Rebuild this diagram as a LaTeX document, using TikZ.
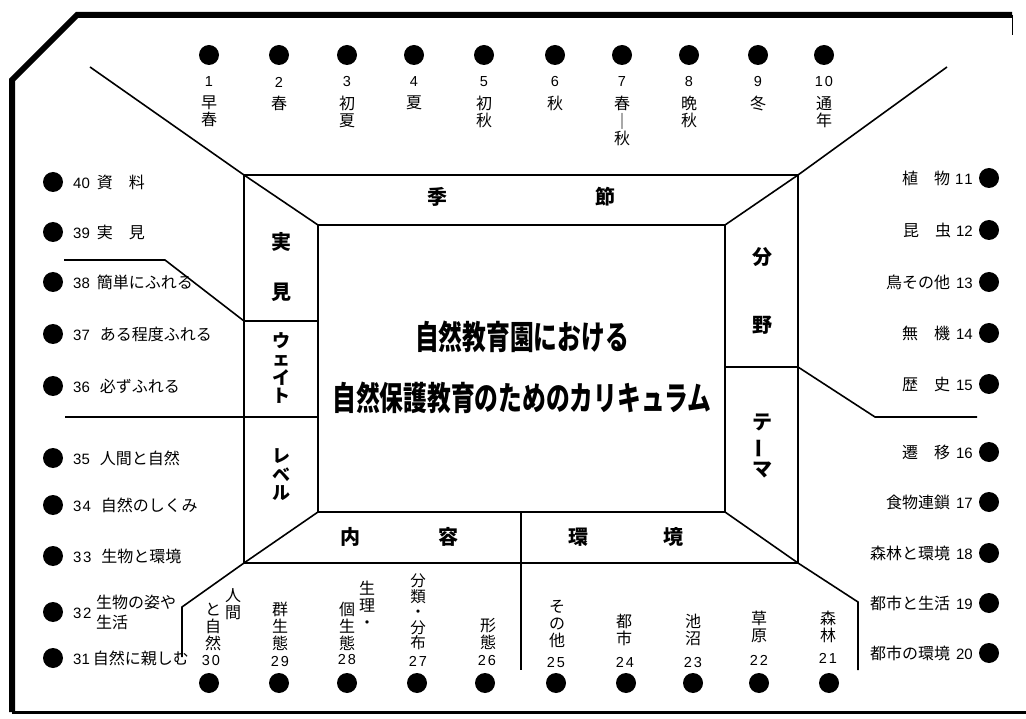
\documentclass[tikz,border=0pt]{standalone}
\usepackage{fontspec}
\setmainfont{Liberation Sans}
\newfontfamily\jp{Noto Sans CJK JP}
\newcommand\jl[1]{{\jp\fontsize{16}{18}\selectfont #1}}
\tikzset{
 dot/.style={circle,fill=black,inner sep=0pt,minimum size=20pt},
 num/.style={inner sep=0pt,font=\fontsize{14.5}{16}\selectfont},
 vlab/.style={inner sep=0pt,align=center,font=\jp\fontsize{16}{17}\selectfont},
 slab/.style={inner sep=0pt,font=\fontsize{15}{17}\selectfont},
 band/.style={inner sep=0pt,align=center,font=\jp\bfseries\fontsize{20}{21}\selectfont},
 fr/.style={line width=1.6pt,line join=miter},
 border/.style={line width=6pt,line join=miter},
}
\begin{document}
\begin{tikzpicture}[x=1pt,y=-1pt]
\useasboundingbox (0,0) rectangle (1026,719);
\fill[white] (0,0) rectangle (1026,719);
% outer border
\coordinate (b1) at (1012,15);
\coordinate (b2) at (77,15);
\coordinate (b3) at (12,80);
\coordinate (b4) at (12,712);
\coordinate (b5) at (1026,712);
\coordinate (b6) at (1012,35);
\draw[border] (b1) -- (b2) -- (b3) -- (b4);
\draw[line width=3pt] (b4) -- (b5);
\draw[line width=1pt] (b1) -- (b6);
% frame corners
\coordinate (otl) at (244,175);
\coordinate (otr) at (798,175);
\coordinate (obl) at (244,563);
\coordinate (obr) at (798,563);
\coordinate (itl) at (318,225);
\coordinate (itr) at (725,225);
\coordinate (ibl) at (318,512);
\coordinate (ibr) at (725,512);
\draw[fr] (otl) rectangle (obr);
\draw[fr] (itl) rectangle (ibr);
% diagonals
\coordinate (dtl) at (90,67);
\coordinate (dtr) at (947,67);
\draw[fr] (dtl) -- (otl) -- (itl);
\draw[fr] (dtr) -- (otr) -- (itr);
\coordinate (dbl1) at (182,607);
\coordinate (dbl2) at (182,657);
\draw[fr] (ibl) -- (obl) -- (dbl1) -- (dbl2);
\coordinate (dbr1) at (858,602);
\coordinate (dbr2) at (858,670);
\draw[fr] (ibr) -- (obr) -- (dbr1) -- (dbr2);
% bottom divider
\coordinate (dv1) at (521,512);
\coordinate (dv2) at (521,670);
\draw[fr] (dv1) -- (dv2);
% left column dividers and side lines
\coordinate (lw1) at (244,321);
\coordinate (lw2) at (318,321);
\draw[fr] (lw1) -- (lw2);
\coordinate (ls1) at (64,260);
\coordinate (ls2) at (165,260);
\draw[fr] (ls1) -- (ls2) -- (lw1);
\coordinate (ll1) at (65,417);
\coordinate (ll2) at (318,417);
\draw[fr] (ll1) -- (ll2);
% right column divider and side line
\coordinate (rw1) at (725,367);
\coordinate (rw2) at (798,367);
\coordinate (rs1) at (875,417);
\coordinate (rs2) at (977,417);
\draw[fr] (rw1) -- (rw2) -- (rs1) -- (rs2);
% band labels
\node[band] (ki) at (437,197) {季};
\node[band] (se) at (605,197) {節};
\node[band] (nai) at (350,537) {内};
\node[band] (yo) at (448,537) {容};
\node[band] (kan) at (578,537) {環};
\node[band] (kyo) at (673,537) {境};
\node[band] (ji) at (281,242) {実};
\node[band] (ken) at (281,292) {見};
\node[band,font=\jp\bfseries\fontsize{18}{18.5}\selectfont] (wei) at (281,368) {ウ\\ェ\\イ\\ト};
\node[band,font=\jp\bfseries\fontsize{18}{18.5}\selectfont] (lev) at (281,475) {レ\\ベ\\ル};
\node[band] (bun) at (762,257) {分};
\node[band] (ya) at (762,325) {野};
\node[band,font=\jp\bfseries\fontsize{20}{23.5}\selectfont] (tema) at (762,446) {テ\\\rotatebox[origin=c]{90}{ー}\\マ};
% title
\node[inner sep=0pt] (title1) at (522,337) {\scalebox{0.72}[1]{\jp\bfseries\fontsize{33}{33}\selectfont 自然教育園における}};
\node[inner sep=0pt] (title2) at (522,398) {\scalebox{0.72}[1]{\jp\bfseries\fontsize{33}{33}\selectfont 自然保護教育のためのカリキュラム}};
% top dots
\foreach \x/\n [count=\i] in {209/1,279/2,347/3,414/4,484/5,555/6,622/7,689/8,758/9,824/{1\kern2pt0}} {
  \node[dot] (t\i) at (\x,55) {};
  \node[num] (tn\i) at (\x,82) {\n};
}
\node[vlab,anchor=north] (tl1) at (209,96) {早\\春};
\node[vlab,anchor=north] (tl2) at (279,96) {春};
\node[vlab,anchor=north] (tl3) at (347,96) {初\\夏};
\node[vlab,anchor=north] (tl4) at (414,96) {夏};
\node[vlab,anchor=north] (tl5) at (484,96) {初\\秋};
\node[vlab,anchor=north] (tl6) at (555,96) {秋};
\node[vlab,anchor=north,font=\jp\fontsize{16}{17.5}\selectfont] (tl7) at (622,96) {春\\｜\\秋};
\node[vlab,anchor=north] (tl8) at (689,96) {晩\\秋};
\node[vlab,anchor=north] (tl9) at (758,96) {冬};
\node[vlab,anchor=north] (tl10) at (824,96) {通\\年};
% left dots and labels
\foreach \y [count=\i] in {182,232,282,334,386,458,505,556,612,658} {
  \node[dot] (ld\i) at (53,\y) {};
}
\node[slab,anchor=west] (l40) at (73,182) {40\hspace{7pt}\jl{資　料}};
\node[slab,anchor=west] (l39) at (73,232) {39\hspace{7pt}\jl{実　見}};
\node[slab,anchor=west] (l38) at (73,282) {38\hspace{7pt}\jl{簡単にふれる}};
\node[slab,anchor=west] (l37) at (73,334) {37\hspace{10pt}\jl{ある程度ふれる}};
\node[slab,anchor=west] (l36) at (73,386) {36\hspace{10pt}\jl{必ずふれる}};
\node[slab,anchor=west] (l35) at (73,458) {35\hspace{10pt}\jl{人間と自然}};
\node[slab,anchor=west] (l34) at (73,505) {3\kern1pt4\hspace{10pt}\jl{自然のしくみ}};
\node[slab,anchor=west] (l33) at (73,556) {3\kern1.5pt3\hspace{10pt}\jl{生物と環境}};
\node[slab,anchor=west] (l32n) at (73,613) {3\kern1.5pt2};
\node[inner sep=0pt,anchor=west,align=left,font=\jp\fontsize{16}{20}\selectfont] (l32) at (96,612) {生物の姿や\\生活};
\node[slab,anchor=west] (l31) at (73,658) {31\hspace{3pt}\jl{自然に親しむ}};
% right dots and labels
\foreach \y [count=\i] in {178,230,282,333,384,452,502,553,603,653} {
  \node[dot] (rd\i) at (989,\y) {};
}
\node[slab,anchor=east] (r11) at (973,178) {\jl{植　物}\hspace{5pt}1\kern1pt1};
\node[slab,anchor=east] (r12) at (973,230) {\jl{昆　虫}\hspace{5pt}12};
\node[slab,anchor=east] (r13) at (973,282) {\jl{鳥その他}\hspace{6pt}13};
\node[slab,anchor=east] (r14) at (973,333) {\jl{無　機}\hspace{6pt}14};
\node[slab,anchor=east] (r15) at (973,384) {\jl{歴　史}\hspace{6pt}15};
\node[slab,anchor=east] (r16) at (973,452) {\jl{遷　移}\hspace{6pt}16};
\node[slab,anchor=east] (r17) at (973,502) {\jl{食物連鎖}\hspace{6pt}17};
\node[slab,anchor=east] (r18) at (973,553) {\jl{森林と環境}\hspace{6pt}18};
\node[slab,anchor=east] (r19) at (973,603) {\jl{都市と生活}\hspace{6pt}19};
\node[slab,anchor=east] (r20) at (973,653) {\jl{都市の環境}\hspace{6pt}20};
% bottom dots
\foreach \x [count=\i] in {209,279,347,417,485,556,626,693,759,829} {
  \node[dot] (bd\i) at (\x,683) {};
}
\node[num] (bn30) at (211,661) {3\kern2pt0};
\node[num] (bn29) at (280,662) {2\kern2pt9};
\node[num] (bn28) at (347,660) {2\kern2pt8};
\node[num] (bn27) at (418,661) {2\kern2pt7};
\node[num] (bn26) at (487,661) {2\kern2pt6};
\node[num] (bn25) at (556,663) {2\kern2pt5};
\node[num] (bn24) at (625,662) {2\kern2pt4};
\node[num] (bn23) at (693,663) {2\kern2pt3};
\node[num] (bn22) at (759,660) {2\kern2pt2};
\node[num] (bn21) at (828,658) {2\kern2pt1};
\node[vlab,anchor=south] (bl30a) at (213,651) {と\\自\\然};
\node[vlab,anchor=north] (bl30b) at (233,588) {人\\間};
\node[vlab,anchor=south] (bl29) at (280,651) {群\\生\\態};
\node[vlab,anchor=south] (bl28a) at (347,651) {個\\生\\態};
\node[vlab,anchor=north] (bl28b) at (367,581) {生\\理\\・};
\node[vlab,anchor=south,font=\jp\fontsize{15.5}{15.5}\selectfont] (bl27) at (418,650) {分\\類\\・\\分\\布};
\node[vlab,anchor=south] (bl26) at (488,650) {形\\態};
\node[vlab,anchor=south] (bl25) at (557,648) {そ\\の\\他};
\node[vlab,anchor=south] (bl24) at (624,646) {都\\市};
\node[vlab,anchor=south] (bl23) at (693,646) {池\\沼};
\node[vlab,anchor=south] (bl22) at (759,643) {草\\原};
\node[vlab,anchor=south] (bl21) at (828,643) {森\\林};
\end{tikzpicture}
\end{document}
